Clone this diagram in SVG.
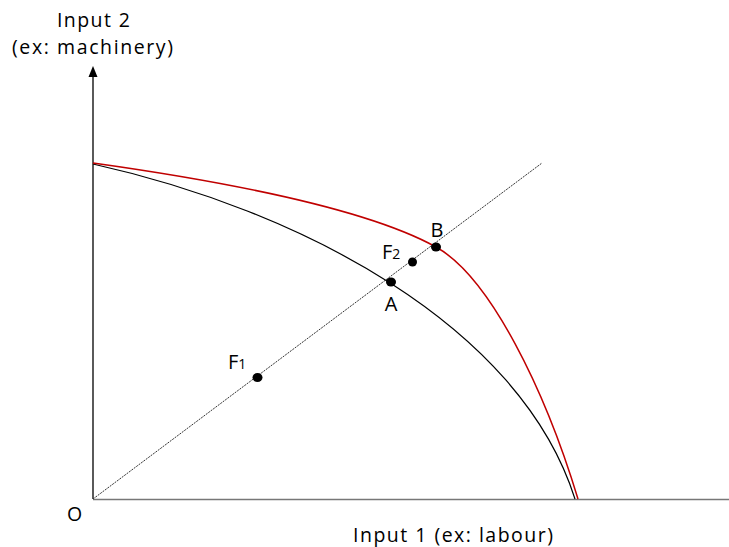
<svg xmlns="http://www.w3.org/2000/svg" width="729" height="547" viewBox="0 0 729 547">
<defs>
<style>
.t{font-family:"Open Sans","Liberation Sans",sans-serif;font-size:19.5px;fill:#000}
.s{font-size:20px}
.sub{font-size:14px}
.dot{fill:#000}
</style>
</defs>
<rect width="729" height="547" fill="#fff"/>
<g id="axes">
<line x1="93" y1="499" x2="93" y2="76" stroke="#000" stroke-width="1.3"/>
<path d="M88.5,77 L93,66 L97.5,77 Z" fill="#000"/>
<line x1="93" y1="499.5" x2="729" y2="499.5" stroke="#777" stroke-width="1.6"/>
</g>
<g id="connectors">
<line x1="93" y1="499" x2="542" y2="163" stroke="#333" stroke-width="1" stroke-dasharray="2,1"/>
<path id="isoquant-black" d="M93,164 C300,210 520,325 575,499" fill="none" stroke="#000" stroke-width="1.2"/>
<path id="isoquant-red" d="M93,163 C200,178 360,205 436,247 C490,277 545,390 578,499" fill="none" stroke="#c00000" stroke-width="1.5"/>
</g>
<g id="labels">
<text class="t" x="57" y="27" textLength="73" lengthAdjust="spacing">Input 2</text>
<text class="t" x="12" y="54" textLength="161" lengthAdjust="spacing">(ex: machinery)</text>
<text class="t" x="353" y="542" textLength="200" lengthAdjust="spacing">Input 1 (ex: labour)</text>
<text class="t" x="74.5" y="521" text-anchor="middle">O</text>
</g>
<g id="A"><ellipse class="dot" cx="391" cy="282" rx="5" ry="4.5"/><text class="t s" x="391" y="311" text-anchor="middle">A</text></g>
<g id="B"><ellipse class="dot" cx="436" cy="247" rx="5" ry="4.5"/><text class="t s" x="437" y="237" text-anchor="middle">B</text></g>
<g id="F2"><ellipse class="dot" cx="412.5" cy="262" rx="4.5" ry="4.5"/><text class="t s" x="382" y="259">F<tspan class="sub">2</tspan></text></g>
<g id="F1"><ellipse class="dot" cx="257.5" cy="377.5" rx="5" ry="4.5"/><text class="t s" x="228" y="369">F<tspan class="sub">1</tspan></text></g>
</svg>
